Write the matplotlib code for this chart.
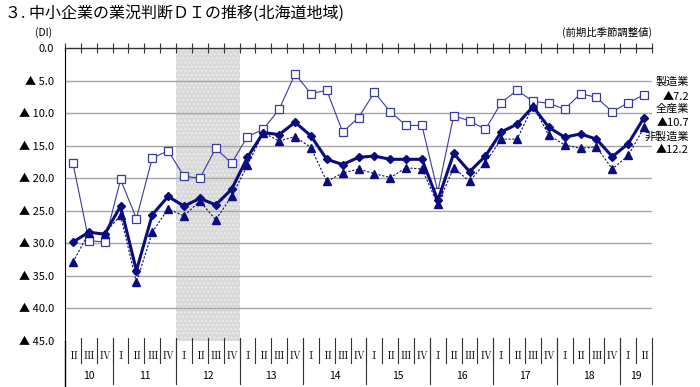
import matplotlib
matplotlib.use('Agg')
import matplotlib.pyplot as plt

plt.rcParams['font.family'] = ['Noto Sans CJK JP', 'DejaVu Sans']

# DI values (negative = ▲)
seizo = [-17.7, -29.6, -29.8, -20.2, -26.2, -16.9, -15.8, -19.7, -20.0, -15.4, -17.7,
         -13.6, -12.5, -9.4, -4.0, -7.0, -6.5, -12.9, -10.7, -6.8, -9.8, -11.9, -11.9,
         -22.1, -10.4, -11.2, -12.5, -8.4, -6.5, -8.2, -8.5, -9.4, -7.0, -7.6, -9.8, -8.4, -7.2]
zensan = [-29.8, -28.3, -28.6, -24.3, -34.2, -25.6, -22.8, -24.3, -23.1, -24.1, -21.7,
          -16.8, -13.0, -13.3, -11.4, -13.5, -17.1, -17.9, -16.8, -16.6, -17.1, -17.1, -17.1,
          -23.4, -16.2, -19.0, -16.6, -12.9, -11.7, -9.0, -12.2, -13.7, -13.2, -14.0, -16.7, -14.7, -10.7]
hiseizo = [-32.9, -28.4, -28.5, -25.7, -36.0, -28.3, -24.7, -25.8, -23.5, -26.4, -22.8,
           -18.0, -13.0, -14.3, -13.6, -15.3, -20.5, -19.2, -18.6, -19.3, -19.9, -18.4, -18.6,
           -24.0, -18.4, -20.5, -17.6, -14.0, -14.0, -8.9, -13.4, -14.9, -15.4, -15.2, -18.6, -16.5, -12.2]

quarters = ['Ⅱ', 'Ⅲ', 'Ⅳ'] + ['Ⅰ', 'Ⅱ', 'Ⅲ', 'Ⅳ'] * 8 + ['Ⅰ', 'Ⅱ']
years = ['10', '11', '12', '13', '14', '15', '16', '17', '18', '19']
year_len = [3, 4, 4, 4, 4, 4, 4, 4, 4, 2]
yticks = [0, -5, -10, -15, -20, -25, -30, -35, -40, -45]

x = list(range(len(zensan)))

fig = plt.figure(figsize=(7, 3.87), dpi=100)
ax = fig.add_axes([0.0929, 0.119, 0.8385, 0.757])
ax.set_xlim(-0.5, len(x) - 0.5)
ax.set_ylim(-45, 0)

# shaded 2012
ax.axvspan(6.5, 10.5, facecolor='#d9d9d9', edgecolor='#ececec', hatch='....', lw=0, zorder=0)

for v in yticks[1:-1]:
    ax.axhline(v, color='#a6a6a6', lw=1, zorder=1)

navy = '#0b0b80'
ax.plot(x, seizo, color='#3a3aa8', lw=0.8, marker='s', ms=5.5,
        mfc='white', mec='#3a3aa8', mew=0.9, zorder=3)
ax.plot(x, hiseizo, color=navy, lw=0.8, ls=(0, (2, 1.5)), marker='^', ms=5.5,
        mfc=navy, mec=navy, zorder=4)
ax.plot(x, zensan, color=navy, lw=2.2, marker='D', ms=3.8,
        mfc=navy, mec=navy, zorder=5)

# spines / ticks
for s in ['right', 'bottom']:
    ax.spines[s].set_visible(False)
ax.spines['left'].set_color('black')
ax.spines['top'].set_color('#333333')
ax.spines['top'].set_linewidth(1)
ax.xaxis.tick_top()
ax.set_xticks([i + 0.5 for i in range(-1, len(x))])
ax.set_xticklabels([])
ax.tick_params(axis='x', direction='inout', length=7, width=0.8, color='#333333')
ax.set_yticks(yticks)
ax.set_yticklabels(['0.0'] + ['▲ %.1f' % -v for v in yticks[1:]], fontsize=8)
ax.tick_params(axis='y', length=0, pad=8)

# left spine extension below
ax.plot([-0.5, -0.5], [0, -0.16], transform=ax.get_xaxis_transform(),
        color='black', lw=1, clip_on=False)

# category axis below
for i, q in enumerate(quarters):
    ax.text(i, -0.05, q, transform=ax.get_xaxis_transform(), ha='center', va='center',
            fontsize=7.5, family=['Noto Serif CJK JP', 'Noto Sans CJK JP', 'DejaVu Sans'])
    if i > 0:
        ax.plot([i - 0.5, i - 0.5], [0.01, -0.075], transform=ax.get_xaxis_transform(),
                color='#333333', lw=0.8, clip_on=False)
pos = -0.5
for y, n in zip(years, year_len):
    ax.text(pos + n / 2, -0.118, y, transform=ax.get_xaxis_transform(),
            ha='center', va='center', fontsize=7.5)
    pos += n
    ax.plot([pos, pos], [0.01, -0.148], transform=ax.get_xaxis_transform(),
            color='#333333', lw=0.8, clip_on=False)

# texts
fig.text(0.007, 0.965, '３. 中小企業の業況判断ＤＩの推移(北海道地域)', fontsize=11.5, va='center')
fig.text(0.05, 0.917, '(DI)', fontsize=7.5, va='center')
fig.text(0.932, 0.917, '(前期比季節調整値)', fontsize=7.5, va='center', ha='right')
fig.text(0.984, 0.788, '製造業', fontsize=8, ha='right', va='center')
fig.text(0.984, 0.750, '▲7.2', fontsize=8, ha='right', va='center')
fig.text(0.984, 0.718, '全産業', fontsize=8, ha='right', va='center')
fig.text(0.984, 0.683, '▲10.7', fontsize=8, ha='right', va='center')
fig.text(0.984, 0.648, '非製造業', fontsize=8, ha='right', va='center')
fig.text(0.984, 0.612, '▲12.2', fontsize=8, ha='right', va='center')

fig.savefig('out.png', dpi=100)
